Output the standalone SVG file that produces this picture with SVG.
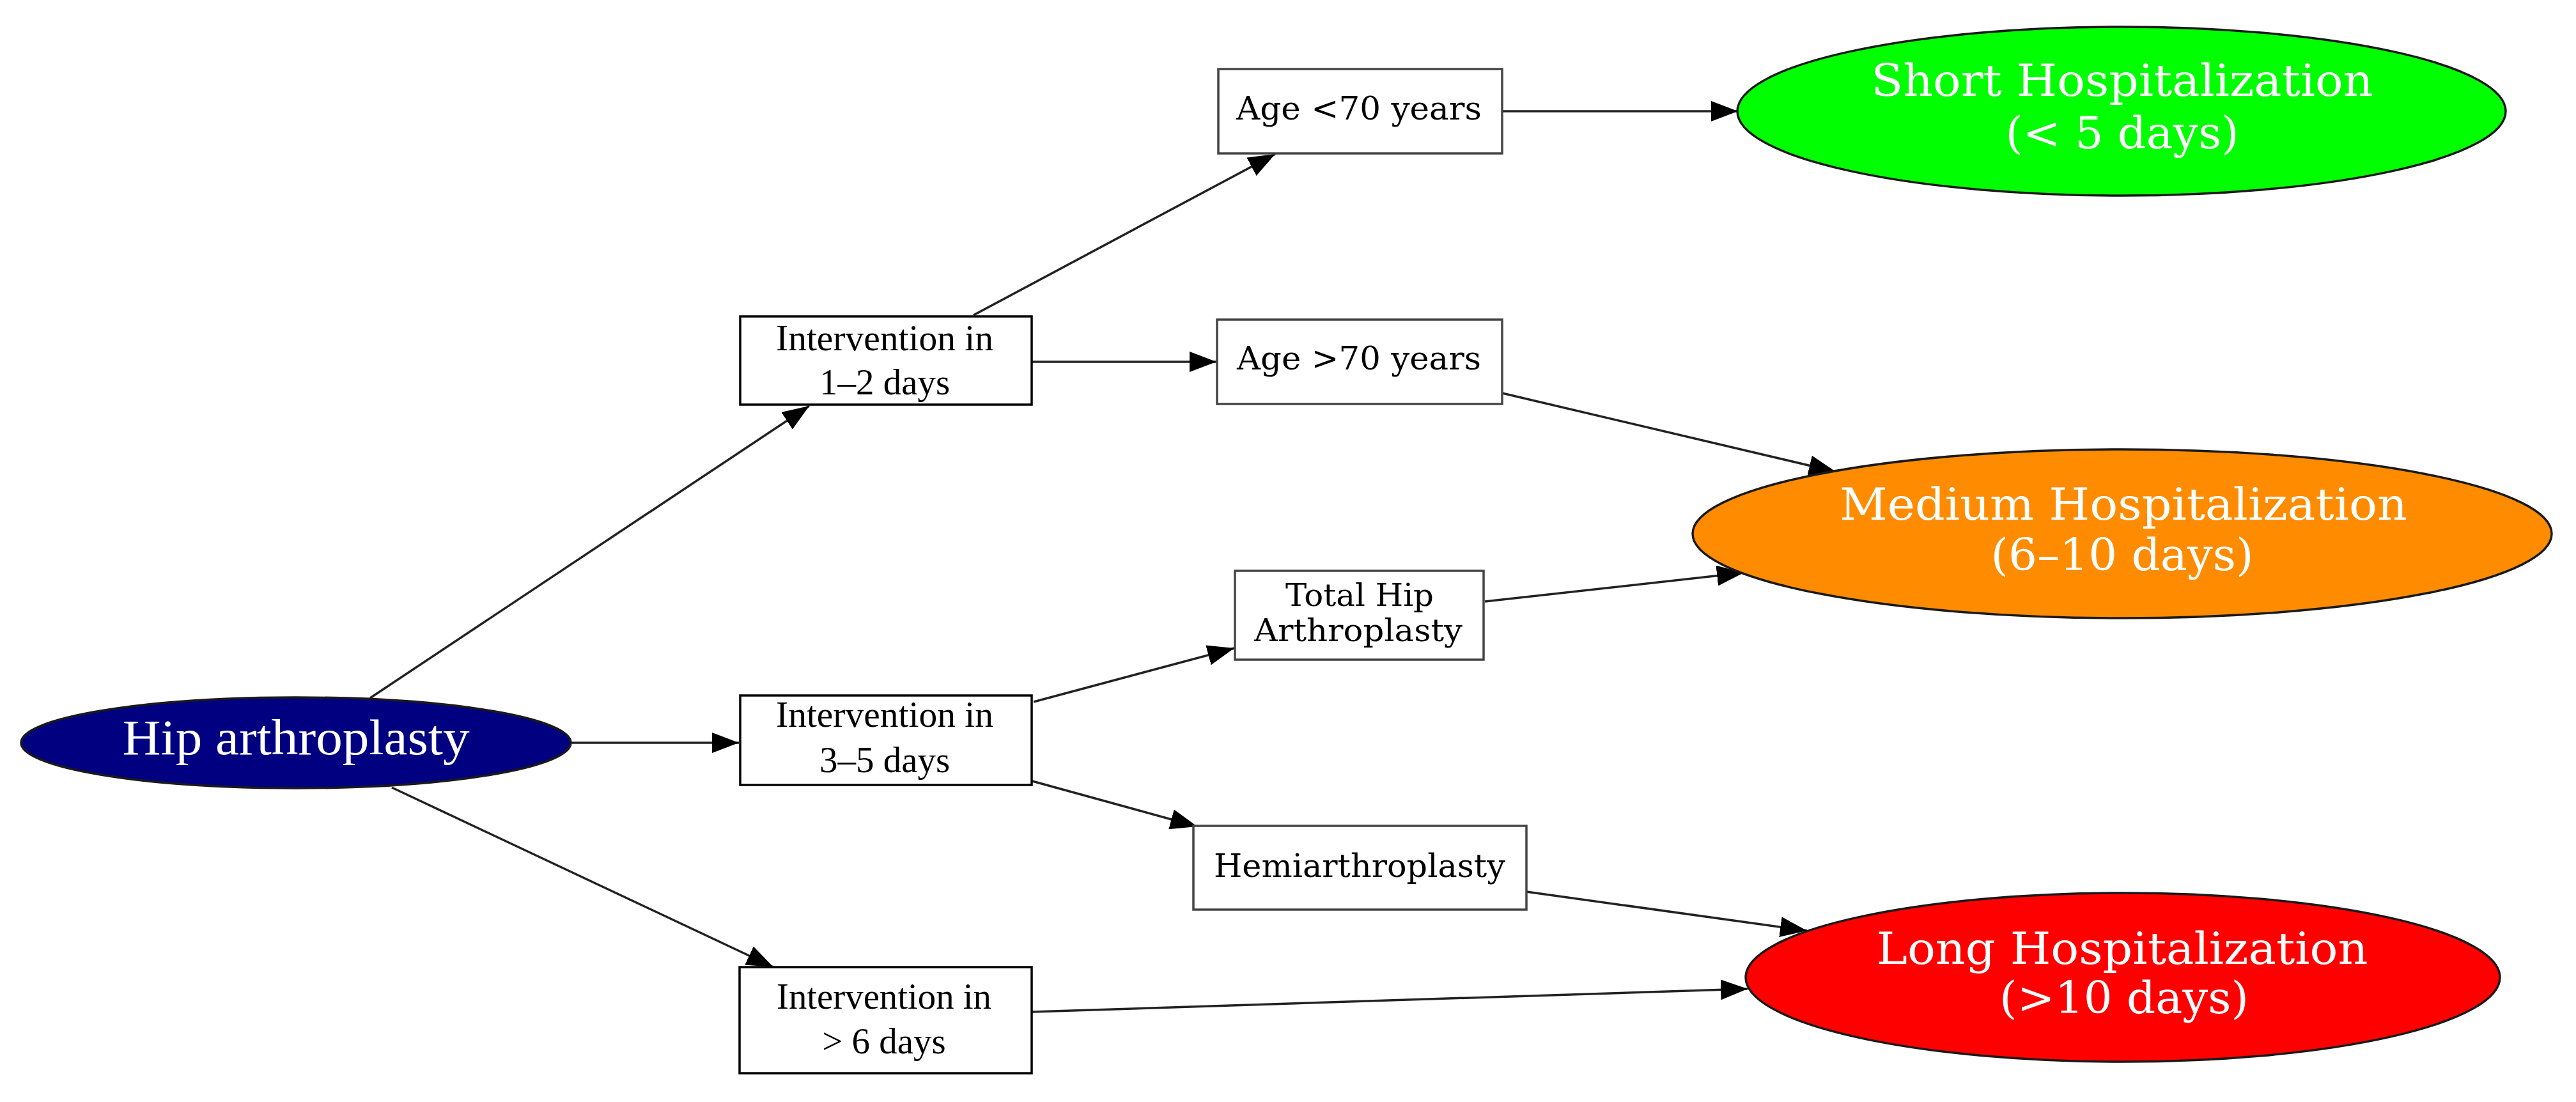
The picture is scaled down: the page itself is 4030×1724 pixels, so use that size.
<svg xmlns="http://www.w3.org/2000/svg" width="4030" height="1724" viewBox="0 0 4030 1724">
<style>
  .bg { fill: #ffffff; }
  .ell { stroke: #1a1a1a; stroke-width: 3.5; }
  .box { fill: #ffffff; stroke: #000000; stroke-width: 3.5; }
  .box2 { fill: #ffffff; stroke: #444444; stroke-width: 3.5; }
  .edge { fill: none; stroke: #222222; stroke-width: 3.5; marker-end: url(#arrow); }
  .lbl { font-family: "Liberation Serif", "Times New Roman", serif; text-anchor: middle; fill: #000000; }
  .lbl2 { font-family: "DejaVu Serif", "Liberation Serif", serif; text-anchor: middle; fill: #000000; }
  .big { font-family: "DejaVu Serif", "Liberation Serif", serif; text-anchor: middle; fill: #ffffff; font-size: 70px; }
</style>
<defs>
  <marker id="arrow" markerUnits="userSpaceOnUse" markerWidth="42" markerHeight="32" refX="42" refY="16" orient="auto" viewBox="0 0 42 32">
    <path d="M0,0 L42,16 L0,32 Z" fill="#000000"/>
  </marker>
</defs>
<rect class="bg" x="0" y="0" width="4030" height="1724"/>

<g id="connectors">
  <path class="edge" d="M579,1092 L1266,635"/>
  <path class="edge" d="M894,1162 L1156,1162"/>
  <path class="edge" d="M613,1232 L1210,1513"/>
  <path class="edge" d="M1523,493 L1995,241"/>
  <path class="edge" d="M1614,566 L1903,566"/>
  <path class="edge" d="M2350,174 L2719,174"/>
  <path class="edge" d="M2350,615 L2872,738"/>
  <path class="edge" d="M2323,941 L2728,896"/>
  <path class="edge" d="M1617,1098 L1931,1014"/>
  <path class="edge" d="M1615,1222 L1873,1293"/>
  <path class="edge" d="M2388,1395 L2827,1456"/>
  <path class="edge" d="M1614,1583 L2734,1547"/>
</g>

<g id="hip">
  <ellipse class="ell" cx="463" cy="1162" rx="430" ry="71" fill="#000080"/>
  <text x="463" y="1180" font-family="Liberation Serif, serif" font-size="78" fill="#ffffff" text-anchor="middle" textLength="543" lengthAdjust="spacingAndGlyphs">Hip arthroplasty</text>
</g>

<g id="int12">
  <rect class="box" x="1158" y="495" width="456" height="138"/>
  <text class="lbl" x="1384" y="548" font-size="57" textLength="340" lengthAdjust="spacingAndGlyphs">Intervention in</text>
  <text class="lbl" x="1384" y="617" font-size="57">1–2 days</text>
</g>

<g id="int35">
  <rect class="box" x="1158" y="1088" width="456" height="140"/>
  <text class="lbl" x="1384" y="1137" font-size="57" textLength="340" lengthAdjust="spacingAndGlyphs">Intervention in</text>
  <text class="lbl" x="1384" y="1208" font-size="57">3–5 days</text>
</g>

<g id="int6">
  <rect class="box" x="1157" y="1513" width="457" height="166"/>
  <text class="lbl" x="1383" y="1578" font-size="57" textLength="336" lengthAdjust="spacingAndGlyphs">Intervention in</text>
  <text class="lbl" x="1383" y="1648" font-size="57">&gt; 6 days</text>
</g>

<g id="age_lt70">
  <rect class="box2" x="1906" y="108" width="444" height="132"/>
  <text class="lbl2" x="2126" y="187" font-size="51" textLength="384" lengthAdjust="spacingAndGlyphs">Age &lt;70 years</text>
</g>

<g id="age_gt70">
  <rect class="box2" x="1904" y="500" width="446" height="132"/>
  <text class="lbl2" x="2126" y="578" font-size="51" textLength="382" lengthAdjust="spacingAndGlyphs">Age &gt;70 years</text>
</g>

<g id="tha">
  <rect class="box2" x="1932" y="893" width="389" height="139"/>
  <text class="lbl2" x="2127" y="948" font-size="48" textLength="232" lengthAdjust="spacingAndGlyphs">Total Hip</text>
  <text class="lbl2" x="2125" y="1003" font-size="48" textLength="326" lengthAdjust="spacingAndGlyphs">Arthroplasty</text>
</g>

<g id="hemi">
  <rect class="box2" x="1867" y="1292" width="521" height="131"/>
  <text class="lbl2" x="2127" y="1372" font-size="50" textLength="456" lengthAdjust="spacingAndGlyphs">Hemiarthroplasty</text>
</g>

<g id="short">
  <ellipse class="ell" cx="3319" cy="174" rx="601" ry="132" fill="#00ff00"/>
  <text class="big" x="3320" y="150" textLength="785" lengthAdjust="spacingAndGlyphs">Short Hospitalization</text>
  <text class="big" x="3320" y="232" textLength="365" lengthAdjust="spacingAndGlyphs">(&lt; 5 days)</text>
</g>

<g id="medium">
  <ellipse class="ell" cx="3320" cy="835" rx="672" ry="132" fill="#ff8c00"/>
  <text class="big" x="3322" y="813" textLength="888" lengthAdjust="spacingAndGlyphs">Medium Hospitalization</text>
  <text class="big" x="3320" y="892" textLength="411" lengthAdjust="spacingAndGlyphs">(6–10 days)</text>
</g>

<g id="long">
  <ellipse class="ell" cx="3321" cy="1529" rx="590" ry="132" fill="#ff0000"/>
  <text class="big" x="3320" y="1508" textLength="769" lengthAdjust="spacingAndGlyphs">Long Hospitalization</text>
  <text class="big" x="3323" y="1585" textLength="390" lengthAdjust="spacingAndGlyphs">(&gt;10 days)</text>
</g>
</svg>
